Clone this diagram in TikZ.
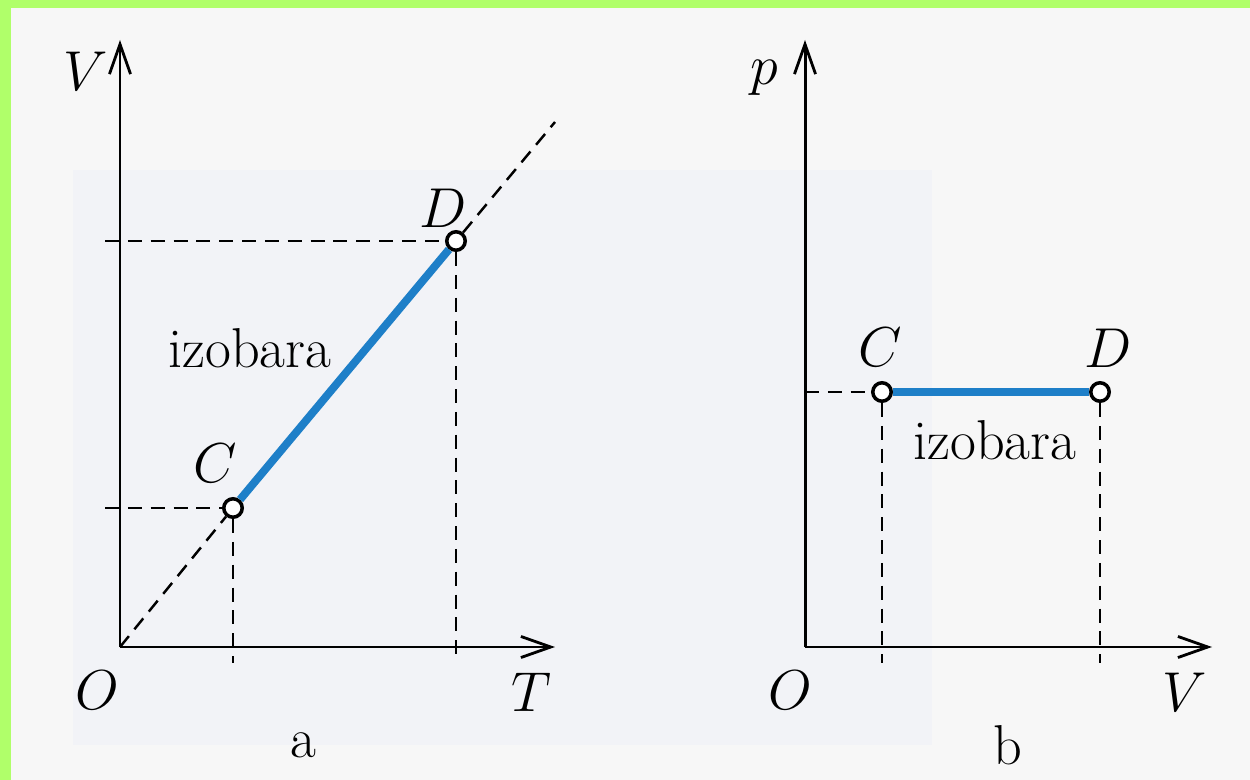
\RequirePackage{fix-cm}
\documentclass[tikz,border=0pt]{standalone}
\usepackage{tikz}
\usetikzlibrary{arrows.meta,positioning,calc}
\definecolor{frame}{RGB}{176,255,106}
\definecolor{paper}{RGB}{247,247,247}
\definecolor{scan}{RGB}{242,243,247}
\definecolor{iso}{RGB}{30,127,200}
\tikzset{
  axis/.style={-{Straight Barb[length=17pt,width=12pt,line width=1.6pt]}, line width=1.7pt, black},
  guide/.style={line width=1.4pt, dash pattern=on 8pt off 5pt},
  proc/.style={iso, line width=4.5pt},
  state/.style={circle, draw=black, fill=white, line width=2pt, inner sep=0pt, minimum size=10.5pt},
  lbl/.style={font=\fontsize{32}{36}\selectfont, inner sep=0pt}
}

\begin{document}
\begin{tikzpicture}[x=0.02cm,y=-0.02cm]
  \fill[paper] (0,0) rectangle (1250,780);
  \fill[scan] (73,170) rectangle (932,745);
  \fill[frame] (0,0) rectangle (1250,8);
  \fill[frame] (0,0) rectangle (11,780);
  \useasboundingbox (0,0) rectangle (1250,780);

  % a: V-T
  \coordinate (Oa) at (120,647);
  \coordinate (Va) at (120,40);
  \coordinate (Ta) at (555,647);
  \coordinate (Ea) at (555,122);
  \coordinate (Cax) at (105,508);
  \coordinate (Cay) at (233,663);
  \coordinate (Dax) at (105,241);
  \coordinate (Day) at (456,663);
  \node[state] (Ca) at (233,508) {};
  \node[state] (Da) at (456,241) {};
  \draw[guide] (Oa) -- (Ca) (Da) -- (Ea);
  \draw[guide] (Cax) -- (Ca) (Ca) -- (Cay);
  \draw[guide] (Dax) -- (Da) (Da) -- (Day);
  \draw[axis] (Oa) -- (Va);
  \draw[axis] (Oa) -- (Ta);
  \draw[proc] (Ca) -- (Da);
  \node[lbl] (Vla) at (86,71) {$V$};
  \node[lbl] (Ola) at (97,690) {$O$};
  \node[lbl] (Tla) at (531,692) {$T$};
  \node[lbl] (Cla) at (215,463) {$C$};
  \node[lbl] (Dla) at (443,208) {$D$};
  \node[lbl] (isoa) at (250,348) {izobara};
  \node[lbl] (capa) at (303,745) {a};

  % b: p-V
  \coordinate (Ob) at (805,647);
  \coordinate (pb) at (805,40);
  \coordinate (Vb) at (1212,647);
  \coordinate (Cbx) at (805,392);
  \coordinate (Cby) at (882,663);
  \coordinate (Dby) at (1100,663);
  \node[state] (Cb) at (882,392) {};
  \node[state] (Db) at (1100,392) {};
  \draw[guide] (Cbx) -- (Cb) (Cb) -- (Cby);
  \draw[guide] (Db) -- (Dby);
  \draw[axis] (Ob) -- (pb);
  \draw[axis] (Ob) -- (Vb);
  \draw[proc] (Cb) -- (Db);
  \node[lbl] (plb) at (764,78) {$p$};
  \node[lbl] (Olb) at (790,690) {$O$};
  \node[lbl] (Vlb) at (1185,692) {$V$};
  \node[lbl] (Clb) at (880,347) {$C$};
  \node[lbl] (Dlb) at (1108,348) {$D$};
  \node[lbl] (isob) at (995,440) {izobara};
  \node[lbl] (capb) at (1008,745) {b};
\end{tikzpicture}
\end{document}
